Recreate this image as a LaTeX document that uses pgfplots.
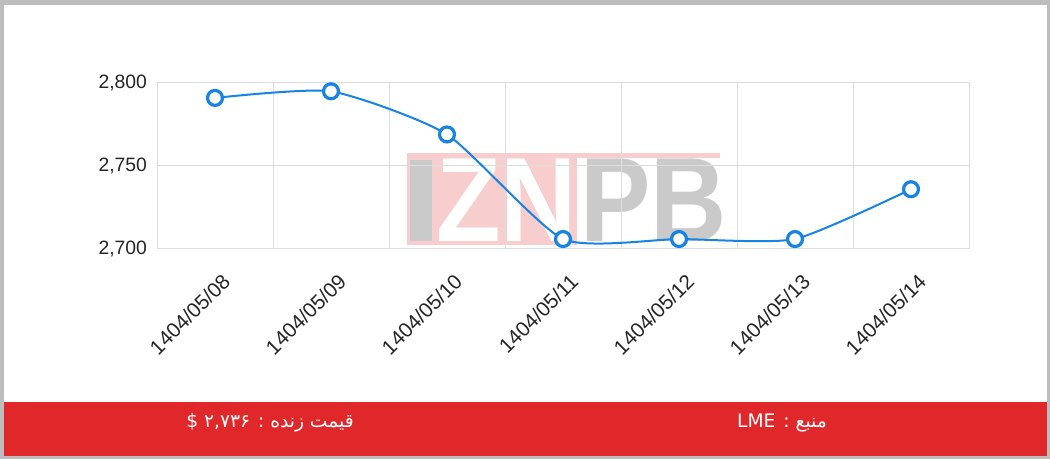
\documentclass[border=0pt]{standalone}
\usepackage{pgfplots}
\pgfplotsset{compat=1.18}
\usepackage{fontspec}
\setmainfont{Liberation Sans}
\newfontfamily\arabicfont[Script=Arabic]{DejaVu Sans}
\TeXXeTstate=1
\definecolor{lineblue}{HTML}{1783E2}
\definecolor{barred}{HTML}{E0282B}
\definecolor{gridgray}{HTML}{DDDDDD}
\definecolor{framegray}{HTML}{BDBDBD}
\definecolor{wmgray}{HTML}{CACACA}
\definecolor{wmpink}{HTML}{F7CDCD}
\definecolor{labelgray}{HTML}{262626}
\begin{document}
\begin{tikzpicture}
% frame, footer and watermark, in pixel units of the reference
\begin{scope}[x=0.75pt,y=-0.75pt]
  \fill[framegray] (0,0) rectangle (1050,459);
  \fill[white] (4,5) rectangle (1047,456);
  \fill[barred] (4,402) rectangle (1047,456);
  \fill[wmpink] (407,153) rectangle (720,158);
  \fill[wmpink] (407,158) rectangle (577,245);
  \fill[wmgray] (410,160) rectangle (432,241);
  \node[anchor=base west, inner sep=0, text=white, xscale=0.88,
        font=\bfseries\fontsize{90}{90}\selectfont] at (436,242) {ZN};
  \node[anchor=base west, inner sep=0, text=wmgray, xscale=0.88,
        font=\bfseries\fontsize{90}{90}\selectfont] at (580,242) {PB};
  \node[text=white, font=\arabicfont\fontsize{14}{16}\selectfont] at (782,423)
    {\beginR منبع : \beginL LME\endL\endR};
  \node[text=white, font=\arabicfont\fontsize{14}{16}\selectfont] at (270,423)
    {\beginR قیمت زنده : \beginL ۲,۷۳۶\endL{} \$\endR};
\end{scope}
\begin{axis}[
  at={(117.75pt,-186.75pt)}, anchor=south west,
  scale only axis, width=609pt, height=124.5pt,
  xmin=-0.5, xmax=6.5, ymin=2700, ymax=2800,
  xtick={0,...,6},
  xticklabels={1404/05/08,1404/05/09,1404/05/10,1404/05/11,1404/05/12,1404/05/13,1404/05/14},
  minor xtick={0.5,1.5,...,5.5},
  xminorgrids,
  ytick={2700,2750,2800},
  yticklabels={{2,700},{2,750},{2,800}},
  ymajorgrids,
  major tick length=0pt, minor tick length=0pt,
  axis line style={gridgray, line width=0.75pt},
  major grid style={gridgray, line width=0.75pt},
  minor grid style={gridgray, line width=0.75pt},
  tick label style={font=\fontsize{14.5}{16}\selectfont, text=labelgray},
  yticklabel style={xshift=-4pt},
  xticklabel style={font=\fontsize{15.5}{17}\selectfont,
    xshift=11pt, yshift=-19pt, rotate=45, anchor=east},
  clip=false,
]
\addplot[lineblue, line width=1.5pt, smooth, tension=0.35,
  mark=*, mark size=5.6pt,
  mark options={fill=white, draw=lineblue, line width=2.4pt}]
  coordinates {(0,2791) (1,2795) (2,2769) (3,2706) (4,2706) (5,2706) (6,2736)};
\end{axis}
\end{tikzpicture}
\end{document}
